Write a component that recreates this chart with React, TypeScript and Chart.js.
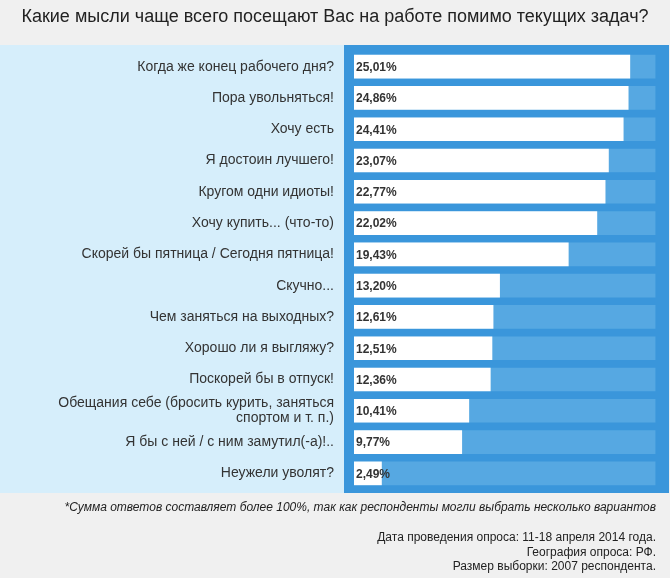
import React, { useEffect, useRef } from "react";
import { Chart, registerables } from "chart.js";

Chart.register(...registerables);

const TITLE = "Какие мысли чаще всего посещают Вас на работе помимо текущих задач?";

const categories: (string | string[])[] = [
  "Когда же конец рабочего дня?",
  "Пора увольняться!",
  "Хочу есть",
  "Я достоин лучшего!",
  "Кругом одни идиоты!",
  "Хочу купить... (что-то)",
  "Скорей бы пятница / Сегодня пятница!",
  "Скучно...",
  "Чем заняться на выходных?",
  "Хорошо ли я выгляжу?",
  "Поскорей бы в отпуск!",
  ["Обещания себе (бросить курить, заняться", "спортом и т. п.)"],
  "Я бы с ней / с ним замутил(-а)!..",
  "Неужели уволят?",
];

const values: number[] = [
  25.01, 24.86, 24.41, 23.07, 22.77, 22.02, 19.43, 13.2, 12.61, 12.51, 12.36, 10.41, 9.77, 2.49,
];

const TRACK_MAX = 27.3;
const AXIS_MAX = 28.65;
const trackValues: number[] = categories.map(() => TRACK_MAX);

const footnote = "*Сумма ответов составляет более 100%, так как респонденты могли выбрать несколько вариантов";
const infoLines: string[] = [
  "Дата проведения опроса: 11-18 апреля 2014 года.",
  "География опроса: РФ.",
  "Размер выборки: 2007 респондента.",
];

const FONT = "'Liberation Sans', Arial, sans-serif";

const panelsPlugin = {
  id: "panels",
  beforeDraw(chart: any) {
    const { ctx, chartArea, width } = chart;
    ctx.save();
    ctx.fillStyle = "#f0f0f0";
    ctx.fillRect(0, 0, width, chart.height);
    const top = 45;
    const bottom = 493;
    ctx.fillStyle = "#d6eefb";
    ctx.fillRect(0, top, chartArea.left - 10, bottom - top);
    ctx.fillStyle = "#3a96db";
    ctx.fillRect(chartArea.left - 10, top, width - 1 - (chartArea.left - 10), bottom - top);
    ctx.restore();
  },
};

const valueLabelPlugin = {
  id: "valueLabels",
  afterDatasetsDraw(chart: any) {
    const { ctx, chartArea } = chart;
    const meta = chart.getDatasetMeta(1);
    ctx.save();
    ctx.font = `bold 12px ${FONT}`;
    ctx.fillStyle = "#333333";
    ctx.textAlign = "left";
    ctx.textBaseline = "middle";
    meta.data.forEach((bar: any, i: number) => {
      const txt = values[i].toFixed(2).replace(".", ",") + "%";
      ctx.fillText(txt, chartArea.left + 2, bar.y + 1);
    });
    ctx.restore();
  },
};

export default function App() {
  const ref = useRef<HTMLCanvasElement | null>(null);

  useEffect(() => {
    document.body.style.margin = "0";
    const canvas = ref.current!;
    const chart = new Chart(canvas, {
      type: "bar",
      data: {
        labels: categories,
        datasets: [
          {
            data: trackValues,
            backgroundColor: "#56a8e2",
            barThickness: 23,
            grouped: false,
            order: 2,
          },
          {
            data: values,
            backgroundColor: "#ffffff",
            barThickness: 23,
            grouped: false,
            order: 1,
          },
        ],
      },
      options: {
        indexAxis: "y",
        animation: false,
        responsive: false,
        devicePixelRatio: 1,
        layout: { padding: { left: 0, right: 0, top: 0, bottom: 89 } },
        plugins: {
          legend: { display: false },
          tooltip: { enabled: false },
          title: {
            display: true,
            text: TITLE,
            color: "#222222",
            font: { family: FONT, size: 18, weight: "normal", lineHeight: 1.2 },
            padding: { top: 6, bottom: 23.4 },
          },
        },
        scales: {
          x: {
            display: false,
            min: 0,
            max: AXIS_MAX,
          },
          y: {
            grid: { display: false, drawTicks: false },
            border: { display: false },
            ticks: {
              color: "#333333",
              font: { family: FONT, size: 14, lineHeight: 1.1 },
              padding: 20,
              autoSkip: false,
            },
            afterFit(scale: any) {
              scale.width = 354;
            },
          },
        },
      },
      plugins: [panelsPlugin, valueLabelPlugin],
    } as any);
    return () => chart.destroy();
  }, []);

  return (
    <div style={{ position: "relative", width: 670, height: 578, background: "#f0f0f0", fontFamily: FONT }}>
      <canvas ref={ref} width={670} height={578} style={{ display: "block" }} />
      <div
        style={{
          position: "absolute",
          right: 14,
          top: 500,
          fontSize: 12,
          fontStyle: "italic",
          color: "#222",
          whiteSpace: "nowrap",
        }}
      >
        {footnote}
      </div>
      <div
        style={{
          position: "absolute",
          right: 14,
          top: 530,
          fontSize: 12,
          lineHeight: "14.5px",
          color: "#222",
          textAlign: "right",
          whiteSpace: "nowrap",
        }}
      >
        {infoLines.map((l, i) => (
          <div key={i}>{l}</div>
        ))}
      </div>
    </div>
  );
}
